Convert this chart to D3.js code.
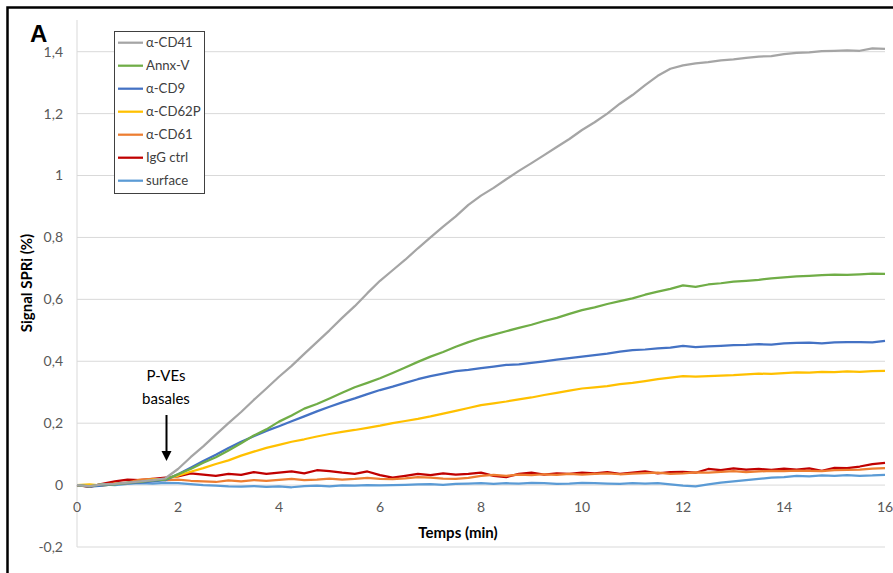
<!DOCTYPE html>
<html><head><meta charset="utf-8">
<script src="https://cdn.jsdelivr.net/npm/d3@7"></script>
<style>body{margin:0;background:#fff;} svg{display:block;}</style>
</head><body>
<svg id="c" width="893" height="573"></svg>
<script>
// ---- data (t = 0 .. 16 min, step 0.25) ----
const time = d3.range(0, 16.0001, 0.25);
const seriesNames = ["α-CD41","Annx-V","α-CD9","α-CD62P","α-CD61","IgG ctrl","surface"];
const colors = ["#a5a5a5","#70ad47","#4472c4","#ffc000","#ed7d31","#c00000","#5b9bd5"];
const cd41 = [0.000,-0.003,0.002,0.004,0.008,0.012,0.016,0.022,0.052,
 0.090,0.125,0.163,0.200,0.236,0.275,0.312,0.350,
 0.385,0.424,0.462,0.500,0.540,0.578,0.620,0.660,
 0.694,0.728,0.765,0.800,0.835,0.868,0.905,0.935,
 0.960,0.988,1.015,1.040,1.066,1.092,1.118,1.147,
 1.172,1.200,1.232,1.260,1.292,1.322,1.345,1.356,
 1.362,1.366,1.372,1.375,1.380,1.384,1.386,1.392,
 1.396,1.398,1.402,1.403,1.404,1.403,1.411,1.409];
const annxV = [0.000,-0.004,0.003,0.002,0.008,0.010,0.015,0.018,0.035,
 0.052,0.072,0.090,0.112,0.135,0.160,0.180,0.205,
 0.225,0.247,0.262,0.280,0.298,0.316,0.330,0.345,
 0.362,0.380,0.398,0.415,0.430,0.447,0.462,0.475,
 0.486,0.497,0.508,0.518,0.530,0.540,0.553,0.565,
 0.574,0.585,0.594,0.603,0.615,0.625,0.634,0.645,
 0.640,0.648,0.652,0.657,0.660,0.663,0.668,0.671,
 0.674,0.676,0.678,0.680,0.679,0.681,0.683,0.682];
const cd9 = [0.000,-0.005,-0.002,0.003,0.006,0.008,0.012,0.016,0.035,
 0.056,0.078,0.098,0.120,0.140,0.158,0.175,0.190,
 0.206,0.222,0.238,0.253,0.267,0.280,0.294,0.307,
 0.318,0.330,0.342,0.352,0.360,0.368,0.372,0.378,
 0.383,0.388,0.390,0.395,0.400,0.405,0.410,0.415,
 0.420,0.425,0.431,0.436,0.438,0.442,0.444,0.450,
 0.446,0.448,0.450,0.452,0.453,0.455,0.454,0.458,
 0.459,0.460,0.458,0.461,0.462,0.462,0.461,0.466];
const cd62p = [0.000,0.002,-0.002,0.004,0.006,0.010,0.018,0.020,0.030,
 0.043,0.055,0.068,0.080,0.095,0.108,0.120,0.130,
 0.140,0.148,0.157,0.165,0.172,0.178,0.185,0.192,
 0.200,0.207,0.214,0.222,0.231,0.240,0.249,0.258,
 0.264,0.270,0.277,0.283,0.291,0.298,0.305,0.312,
 0.316,0.320,0.326,0.330,0.336,0.342,0.347,0.352,
 0.350,0.352,0.354,0.355,0.358,0.360,0.359,0.362,
 0.364,0.363,0.366,0.365,0.367,0.366,0.368,0.369];
const cd61 = [0.000,-0.003,0.002,0.005,0.008,0.018,0.020,0.016,0.018,
 0.014,0.012,0.010,0.015,0.012,0.016,0.014,0.017,
 0.020,0.016,0.018,0.021,0.018,0.020,0.023,0.020,
 0.019,0.022,0.026,0.024,0.021,0.020,0.023,0.030,
 0.033,0.030,0.034,0.032,0.035,0.033,0.036,0.034,
 0.036,0.038,0.035,0.037,0.039,0.040,0.036,0.038,
 0.041,0.040,0.043,0.045,0.042,0.044,0.046,0.045,
 0.047,0.046,0.045,0.048,0.049,0.050,0.053,0.055];
const iggCtrl = [0.000,-0.006,0.004,0.012,0.018,0.016,0.020,0.024,0.028,
 0.038,0.034,0.030,0.036,0.033,0.042,0.036,0.040,
 0.044,0.038,0.048,0.045,0.040,0.036,0.044,0.032,
 0.024,0.030,0.036,0.032,0.038,0.034,0.036,0.040,
 0.030,0.026,0.036,0.040,0.034,0.038,0.036,0.040,
 0.038,0.042,0.036,0.040,0.044,0.038,0.042,0.043,
 0.040,0.052,0.048,0.054,0.050,0.052,0.049,0.053,
 0.050,0.054,0.046,0.056,0.055,0.060,0.068,0.072];
const surface = [0.000,-0.004,0.002,0.000,0.004,0.006,0.005,0.007,0.006,
 0.003,0.000,-0.002,-0.004,-0.005,-0.003,-0.006,-0.004,
 -0.007,-0.003,-0.002,-0.004,-0.001,-0.002,0.000,-0.001,
 0.000,0.001,0.002,0.003,0.001,0.004,0.005,0.006,
 0.004,0.006,0.005,0.007,0.006,0.004,0.005,0.007,
 0.006,0.005,0.004,0.006,0.005,0.006,0.002,-0.002,
 -0.004,0.002,0.008,0.012,0.016,0.020,0.024,0.026,
 0.030,0.028,0.031,0.030,0.032,0.030,0.031,0.033];
const seriesValues = [cd41, annxV, cd9, cd62p, cd61, iggCtrl, surface];
const xTicks = [0,2,4,6,8,10,12,14,16];
const yTicks = [-0.2,0,0.2,0.4,0.6,0.8,1,1.2,1.4];
const fmt = v => String(Math.round(v*10)/10).replace(".", ",");

// ---- drawing ----
const svg = d3.select("#c");
const FONT = "Lato, 'Open Sans', sans-serif";
const x = d3.scaleLinear().domain([0,16]).range([77,885]);
const y = d3.scaleLinear().domain([-0.2,1.4]).range([547,51.7]);

// outer frame
svg.append("rect").attr("x",7.5).attr("y",7.5).attr("width",1000).attr("height",1000)
  .attr("fill","none").attr("stroke","#000").attr("stroke-width",2.5);

// gridlines
svg.append("g").selectAll("line").data(yTicks).join("line")
  .attr("x1",x(0)).attr("x2",x(16)).attr("y1",d=>y(d)).attr("y2",d=>y(d))
  .attr("stroke","#d9d9d9").attr("stroke-width",1);
// y axis line
svg.append("line").attr("x1",x(0)).attr("x2",x(0)).attr("y1",20).attr("y2",y(-0.2))
  .attr("stroke","#d9d9d9").attr("stroke-width",1);

// y tick labels
svg.append("g").selectAll("text").data(yTicks).join("text")
  .attr("x",63).attr("y",d=>y(d)).attr("dy","0.35em").attr("text-anchor","end")
  .attr("font-family",FONT).attr("font-size",14).attr("fill","#595959").text(fmt);
// x tick labels
svg.append("g").selectAll("text").data(xTicks).join("text")
  .attr("x",d=>x(d)).attr("y",507).attr("dy","0.35em").attr("text-anchor","middle")
  .attr("font-family",FONT).attr("font-size",14).attr("fill","#595959").text(d=>d);

// axis titles
svg.append("text").attr("transform","translate(27,283) rotate(-90)")
  .attr("text-anchor","middle").attr("dy","0.35em").attr("font-family",FONT)
  .attr("font-weight","bold").attr("font-size",15).attr("fill","#000").text("Signal SPRi (%)");
svg.append("text").attr("x",458).attr("y",533).attr("dy","0.35em").attr("text-anchor","middle")
  .attr("font-family",FONT).attr("font-weight","bold").attr("font-size",15).attr("fill","#000").text("Temps (min)");

// panel letter
svg.append("text").attr("x",30).attr("y",42).attr("font-family","'Liberation Sans', Arial, sans-serif")
  .attr("font-weight","bold").attr("font-size",24).attr("fill","#000").text("A");

// lines
const line = d3.line().x((d,i)=>x(time[i])).y(d=>y(d));
const order = [6,5,4,3,2,1,0];
svg.append("g").selectAll("path").data(order).join("path")
  .attr("d",i=>line(seriesValues[i])).attr("fill","none")
  .attr("stroke",i=>colors[i]).attr("stroke-width",2.25).attr("stroke-linejoin","round");

// annotation
svg.append("text").attr("x",166).attr("y",376).attr("dy","0.35em").attr("text-anchor","middle")
  .attr("font-family",FONT).attr("font-size",15).attr("fill","#000").text("P-VEs");
svg.append("text").attr("x",166).attr("y",399).attr("dy","0.35em").attr("text-anchor","middle")
  .attr("font-family",FONT).attr("font-size",15).attr("fill","#000").text("basales");
svg.append("line").attr("x1",166.5).attr("x2",166.5).attr("y1",415).attr("y2",452)
  .attr("stroke","#000").attr("stroke-width",2);
svg.append("path").attr("d","M161.5,451 L171.5,451 L166.5,461 Z").attr("fill","#000");

// legend
const lg = svg.append("g");
lg.append("rect").attr("x",114.5).attr("y",31.5).attr("width",90).attr("height",162)
  .attr("fill","#fff").attr("stroke","#404040").attr("stroke-width",1);
const items = lg.selectAll("g.it").data(seriesNames).join("g").attr("class","it")
  .attr("transform",(d,i)=>`translate(0,${42.7 + i*23})`);
items.append("line").attr("x1",118).attr("x2",143).attr("y1",0).attr("y2",0)
  .attr("stroke",(d,i)=>colors[i]).attr("stroke-width",2.25);
items.append("text").attr("x",146).attr("y",0).attr("dy","0.35em")
  .attr("font-family",FONT).attr("font-size",13.2).attr("fill","#404040").text(d=>d);
</script>
</body></html>
